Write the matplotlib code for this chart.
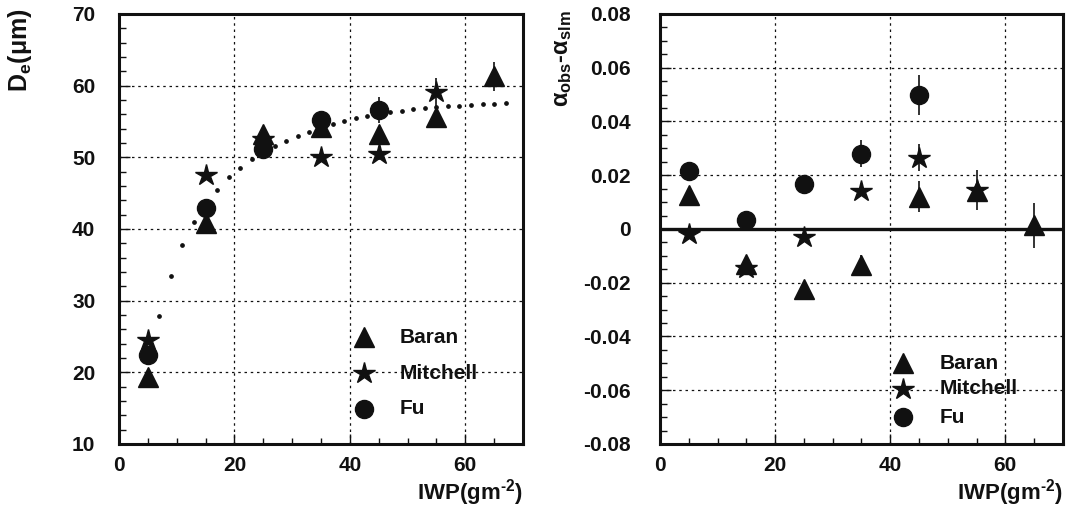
import matplotlib
matplotlib.use('Agg')
import matplotlib.pyplot as plt
from matplotlib.ticker import MultipleLocator

plt.rcParams['font.family'] = ['Liberation Sans', 'DejaVu Sans']
plt.rcParams['font.weight'] = 'bold'
plt.rcParams['mathtext.fontset'] = 'custom'
plt.rcParams['mathtext.rm'] = 'Liberation Sans:bold'
plt.rcParams['mathtext.it'] = 'Liberation Sans:bold'
plt.rcParams['mathtext.bf'] = 'Liberation Sans:bold'
plt.rcParams['mathtext.default'] = 'bf'

# IWP bins
iwp = [5, 15, 25, 35, 45, 55, 65]

# left panel: effective size De (um)
de_baran = [19.3, 40.9, 53.2, 54.3, 53.3, 55.6, 61.3]
de_baran_err = [0.3, 0.5, 0.8, 0.8, 1.0, 1.3, 2.0]
de_mitchell = [24.5, 47.6, 52.5, 50.1, 50.4, 59.1]
de_mitchell_err = [0.3, 0.5, 0.5, 0.5, 0.8, 2.0]
de_fu = [22.4, 42.9, 51.2, 55.2, 56.6]
de_fu_err = [0.5, 0.8, 0.7, 1.0, 1.8]

# dotted fit curve
fit_x = [7, 9, 11, 13, 15, 17, 19, 21, 23, 25, 27, 29, 31, 33, 35, 37,
         39, 41, 43, 45, 47, 49, 51, 53, 55, 57, 59, 61, 63, 65, 67]
fit_y = [27.8, 33.5, 37.8, 41.0, 43.5, 45.5, 47.2, 48.5, 49.7, 50.7, 51.6,
         52.3, 53.0, 53.6, 54.2, 54.7, 55.1, 55.5, 55.8, 56.1, 56.3, 56.5,
         56.7, 56.9, 57.0, 57.1, 57.2, 57.3, 57.4, 57.5, 57.6]

# right panel: alpha_obs - alpha_slm
da_baran = [0.0127, -0.0130, -0.0225, -0.0135, 0.0120, 0.0140, 0.0013]
da_baran_err = [0.001, 0.002, 0.001, 0.004, 0.0057, 0.003, 0.0084]
da_mitchell = [-0.0020, -0.0145, -0.0030, 0.0142, 0.0265, 0.0145]
da_mitchell_err = [0.001, 0.001, 0.002, 0.002, 0.005, 0.0075]
da_fu = [0.0217, 0.0035, 0.0167, 0.0280, 0.0498]
da_fu_err = [0.001, 0.001, 0.002, 0.005, 0.0074]

names = ['Baran', 'Mitchell', 'Fu']
markers = ['^', '*', 'o']
msizes = [14, 16, 13]
ink = '#111111'

fig = plt.figure(figsize=(10.66, 5.14), dpi=100)
ax1 = fig.add_axes([0.1116, 0.1362, 0.379, 0.8366])
ax2 = fig.add_axes([0.6191, 0.1362, 0.378, 0.8366])


def style_axes(ax, ypad):
    for s in ax.spines.values():
        s.set_linewidth(2.2)
        s.set_color(ink)
    ax.set_xlim(0, 70)
    ax.xaxis.set_major_locator(MultipleLocator(20))
    ax.xaxis.set_minor_locator(MultipleLocator(5))
    ax.tick_params(axis='both', which='both', direction='in', top=False,
                   right=False, colors=ink, labelsize=15, width=1)
    ax.tick_params(axis='x', which='major', length=7, pad=9)
    ax.tick_params(axis='x', which='minor', length=4)
    ax.tick_params(axis='y', which='major', length=8, pad=ypad)
    ax.tick_params(axis='y', which='minor', length=5)
    for lab in ax.get_xticklabels() + ax.get_yticklabels():
        lab.set_fontweight('bold')
    ax.grid(True, which='major', color=ink, linestyle=(0, (2, 3)),
            linewidth=0.9)
    ax.set_axisbelow(True)
    ax.text(1.0, -0.114, r'IWP(gm$^{\text{-2}}$)', transform=ax.transAxes,
            ha='right', va='center', fontsize=16, fontweight='bold',
            color=ink)


# ---- left panel
style_axes(ax1, 17)
ax1.set_ylim(10, 70)
ax1.yaxis.set_major_locator(MultipleLocator(10))
ax1.yaxis.set_minor_locator(MultipleLocator(2))
ax1.plot(fit_x, fit_y, linestyle='none', marker='o', markersize=2.4,
         color=ink)
left_sets = [(de_baran, de_baran_err), (de_mitchell, de_mitchell_err),
             (de_fu, de_fu_err)]
for (vals, errs), m, ms in zip(left_sets, markers, msizes):
    ax1.errorbar(iwp[:len(vals)], vals, yerr=errs, fmt=m, markersize=ms,
                 color=ink, ecolor=ink, elinewidth=1.2, capsize=0)
for i, (nm, m, ms) in enumerate(zip(names, markers, msizes)):
    ax1.plot([42.4], [24.9 - 5 * i], marker=m, markersize=ms, color=ink)
    ax1.text(48.6, 24.9 - 5 * i, nm, fontsize=15, fontweight='bold',
             va='center', color=ink)
fig.text(20 / 1066, 1 - 8 / 514, r'D$_e$($\mu$m)', rotation=90,
         ha='center', va='top', fontsize=18, color=ink)

# ---- right panel
style_axes(ax2, 21)
ax2.set_ylim(-0.08, 0.08)
ax2.yaxis.set_major_locator(MultipleLocator(0.02))
ax2.yaxis.set_minor_locator(MultipleLocator(0.005))
ax2.set_yticks([-0.08, -0.06, -0.04, -0.02, 0, 0.02, 0.04, 0.06, 0.08])
ax2.set_yticklabels(['-0.08', '-0.06', '-0.04', '-0.02', '0', '0.02',
                     '0.04', '0.06', '0.08'], fontweight='bold')
ax2.axhline(0, color=ink, linewidth=2.4)
right_sets = [(da_baran, da_baran_err), (da_mitchell, da_mitchell_err),
              (da_fu, da_fu_err)]
for (vals, errs), m, ms in zip(right_sets, markers, msizes):
    ax2.errorbar(iwp[:len(vals)], vals, yerr=errs, fmt=m, markersize=ms,
                 color=ink, ecolor=ink, elinewidth=1.2, capsize=0)
leg_y = [-0.0499, -0.0595, -0.0700]
for nm, m, ms, yy in zip(names, markers, msizes, leg_y):
    ax2.plot([42.2], [yy], marker=m, markersize=ms, color=ink)
    ax2.text(48.5, yy, nm, fontsize=15, fontweight='bold', va='center',
             color=ink)
fig.text(563 / 1066, 1 - 10 / 514, r'$\alpha_{obs}$-$\alpha_{slm}$',
         rotation=90, ha='center', va='top', fontsize=17, color=ink)

fig.savefig('out.png', dpi=100)
